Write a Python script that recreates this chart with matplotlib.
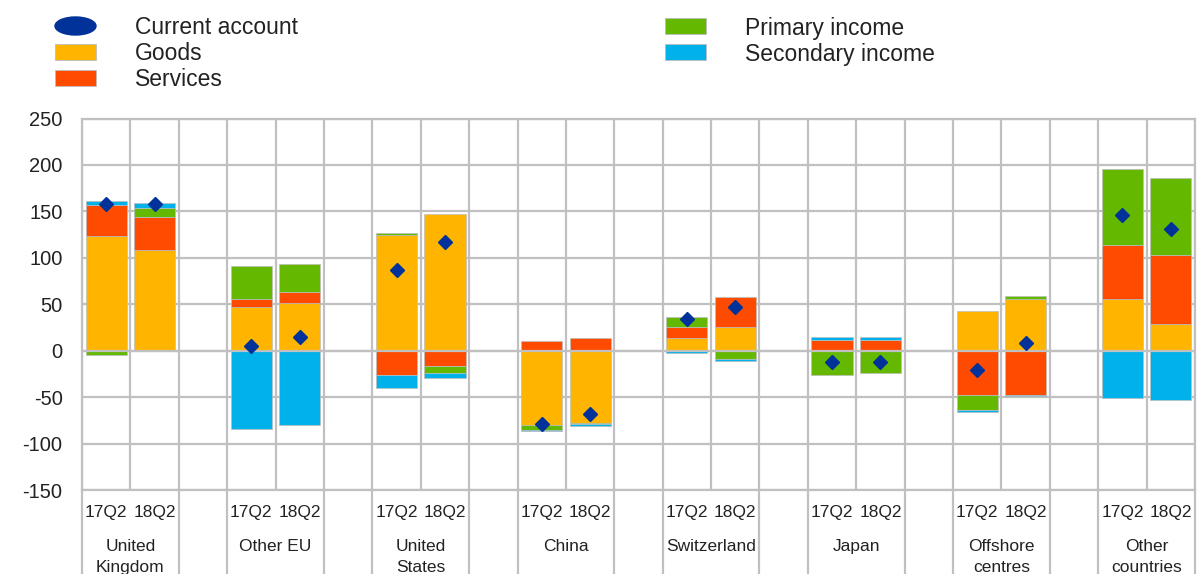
import matplotlib
matplotlib.use("Agg")
import matplotlib.pyplot as plt
import numpy as np
from matplotlib.patches import Rectangle, Ellipse
import matplotlib.transforms as mtransforms

plt.rcParams['font.family'] = ['Liberation Sans', 'DejaVu Sans']

# ---------------- data ----------------
groups = ["United\nKingdom", "Other EU", "United\nStates", "China",
          "Switzerland", "Japan", "Offshore\ncentres", "Other\ncountries"]
periods = ["17Q2", "18Q2"]

goods     = [123.5, 108.5, 47.0, 51.0, 125.0, 147.0, -80.0, -77.5,
             14.0, 25.0, 0.0, 0.0, 43.0, 56.0, 56.0, 29.0]
services  = [33.5, 35.5, 8.5, 12.7, -26.0, -17.0, 10.0, 14.0,
             11.0, 33.0, 12.0, 12.0, -47.3, -47.3, 57.5, 74.0]
primary   = [-5.0, 10.0, 36.0, 29.3, 1.5, -7.0, -5.5, -1.5,
             11.0, -9.0, -26.0, -23.5, -16.7, 2.5, 82.0, 82.5]
secondary = [4.5, 4.5, -84.0, -79.6, -14.0, -5.0, -1.5, -2.5,
             -2.0, -2.0, 2.5, 3.0, -1.8, -1.7, -50.5, -53.0]
current_account = [158.0, 158.0, 5.5, 14.5, 86.5, 117.0, -78.5, -68.0,
                   34.0, 47.0, -12.0, -12.0, -21.0, 8.0, 146.0, 131.0]

series_names = ["Goods", "Services", "Primary income", "Secondary income"]
colors = {"Goods": "#FFB400", "Services": "#FF4B00",
          "Primary income": "#65B800", "Secondary income": "#00B1EA"}
ca_color = "#003299"
yticks = [-150, -100, -50, 0, 50, 100, 150, 200, 250]

# ---------------- figure ----------------
W, H = 1198, 574
fig = plt.figure(figsize=(W / 100, H / 100), dpi=100)
ax_l, ax_r, ax_t, ax_b = 82, 1195, 118.5, 490
ax = fig.add_axes([ax_l / W, 1 - ax_b / H, (ax_r - ax_l) / W, (ax_b - ax_t) / H])

n_groups = len(groups)
x = []
for g in range(n_groups):
    x += [3 * g, 3 * g + 1]
x = np.array(x, dtype=float)

grid_c = "#C0C0C0"
bar_w = 0.85
pos_base = np.zeros(len(x))
neg_base = np.zeros(len(x))
for name, vals in zip(series_names, [goods, services, primary, secondary]):
    v = np.array(vals)
    base = np.where(v >= 0, pos_base, neg_base)
    ax.bar(x, v, bottom=base, width=bar_w, color=colors[name],
           edgecolor="#BDBDBD", linewidth=0.5, zorder=2)
    pos_base = pos_base + np.where(v >= 0, v, 0)
    neg_base = neg_base + np.where(v < 0, v, 0)

ax.plot(x, current_account, linestyle="none", marker="D", markersize=7.2,
        color=ca_color, markeredgecolor=ca_color, zorder=4)

ax.set_xlim(-0.5, 3 * n_groups - 1 - 0.5)
ax.set_ylim(-150, 250)
ax.set_yticks(yticks)
ax.set_yticklabels([str(t) for t in yticks], fontsize=14.5, color="#222222")
ax.set_xticks(np.arange(-0.5, 3 * n_groups - 1, 1.0))
ax.set_xticklabels([])
ax.tick_params(axis="both", length=0)
ax.tick_params(axis="y", pad=14)
ax.grid(True, color=grid_c, linewidth=1.6, zorder=0)
ax.set_axisbelow(True)
ax.axhline(0, color=grid_c, linewidth=1.6, zorder=3)
for s in ax.spines.values():
    s.set_color(grid_c)
    s.set_linewidth(1.6)

# label area below the axes
trans = mtransforms.blended_transform_factory(ax.transData, ax.transAxes)
depth = -(H - ax_b + 5) / (ax_b - ax_t)
for g in range(n_groups):
    for xb in (3 * g - 0.5, 3 * g + 1.5):
        ax.plot([xb, xb], [0, depth], transform=trans, color=grid_c,
                linewidth=1.6, clip_on=False, zorder=1)
    for k, p in enumerate(periods):
        ax.text(3 * g + k, -22.5 / (ax_b - ax_t), p, transform=trans,
                ha="center", va="center", fontsize=12.5, color="#222222")
    ax.text(3 * g + 0.5, -49 / (ax_b - ax_t), groups[g], transform=trans,
            ha="center", va="top", fontsize=12.5, color="#222222",
            linespacing=1.5)

# ---------------- legend ----------------
def fx(px):
    return px / W

def fy(py):
    return 1 - py / H

legend_items = [
    ("Current account", 55, 26, "ellipse", ca_color),
    ("Goods", 55, 52, "rect", colors["Goods"]),
    ("Services", 55, 78, "rect", colors["Services"]),
    ("Primary income", 665, 26, "rect", colors["Primary income"]),
    ("Secondary income", 665, 52, "rect", colors["Secondary income"]),
]
for label, mx, my, kind, c in legend_items:
    if kind == "ellipse":
        fig.add_artist(Ellipse((fx(mx + 20.5), fy(my)), 41 / W, 18 / H,
                               transform=fig.transFigure, facecolor=c,
                               edgecolor=c))
    else:
        fig.add_artist(Rectangle((fx(mx), fy(my + 8)), 41 / W, 16 / H,
                                 transform=fig.transFigure, facecolor=c,
                                 edgecolor="#BDBDBD", linewidth=0.6))
    fig.text(fx(mx + 80), fy(my + 2), label, ha="left", va="center",
             fontsize=16.5, color="#222222")

fig.savefig("out.png", dpi=100)
